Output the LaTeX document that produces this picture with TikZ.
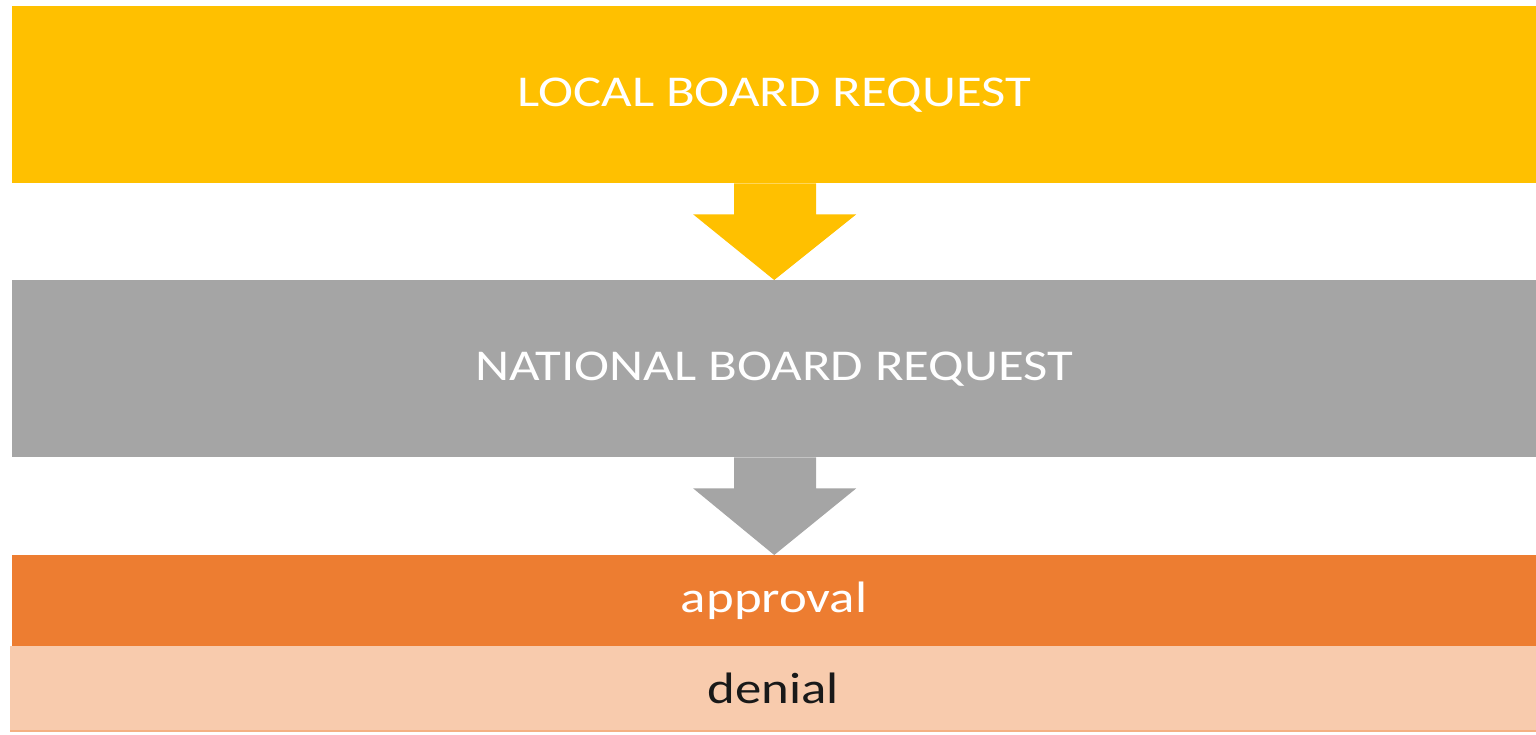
\documentclass[tikz,border=0pt]{standalone}
\usepackage{fontspec}
\setmainfont{Carlito}[FakeStretch=1.2]
\usetikzlibrary{calc}

\definecolor{localColor}{HTML}{FFC000}
\definecolor{nationalColor}{HTML}{A5A5A5}
\definecolor{approvalColor}{HTML}{ED7D31}
\definecolor{denialColor}{HTML}{F8CBAD}
\definecolor{denialLine}{HTML}{F4B183}

\begin{document}
\begin{tikzpicture}
[x=1pt,y=-1pt,%
  boxDecorate/.style={shape=rectangle,inner sep=0pt,anchor=north west,
    minimum width=1524pt,font=\fontsize{44}{48}\selectfont,text=white},
  arrowDecorate/.style={draw=none}]
\useasboundingbox (0,0) rectangle (1536,734);
%% boxes
\node (local) at (12,6) [boxDecorate,fill=localColor,minimum height=177pt] {LOCAL BOARD REQUEST};
\node (national) at (12,280) [boxDecorate,fill=nationalColor,minimum height=177pt] {NATIONAL BOARD REQUEST};
\node (approval) at (12,555) [boxDecorate,fill=approvalColor,minimum height=91pt] {approval};
\node (denial) at (10,646) [boxDecorate,fill=denialColor,minimum width=1526pt,
  minimum height=85pt,text=black!90] {denial};
\draw[denialLine,line width=2pt] (denial.south west) -- (denial.south east);
%% arrows between boxes
\foreach \startnode/\endnode/\col in {local/national/localColor, national/approval/nationalColor}
{
  \fill[\col,arrowDecorate]
    ($(\startnode.south)+(-40,0)$) -- ($(\startnode.south)+(-40,31)$)
    -- ($(\startnode.south)+(-81,31)$) -- ($(\endnode.north)+(0,0)$)
    -- ($(\startnode.south)+(82,31)$) -- ($(\startnode.south)+(42,31)$)
    -- ($(\startnode.south)+(42,0)$) -- cycle;
}
\end{tikzpicture}
\end{document}
